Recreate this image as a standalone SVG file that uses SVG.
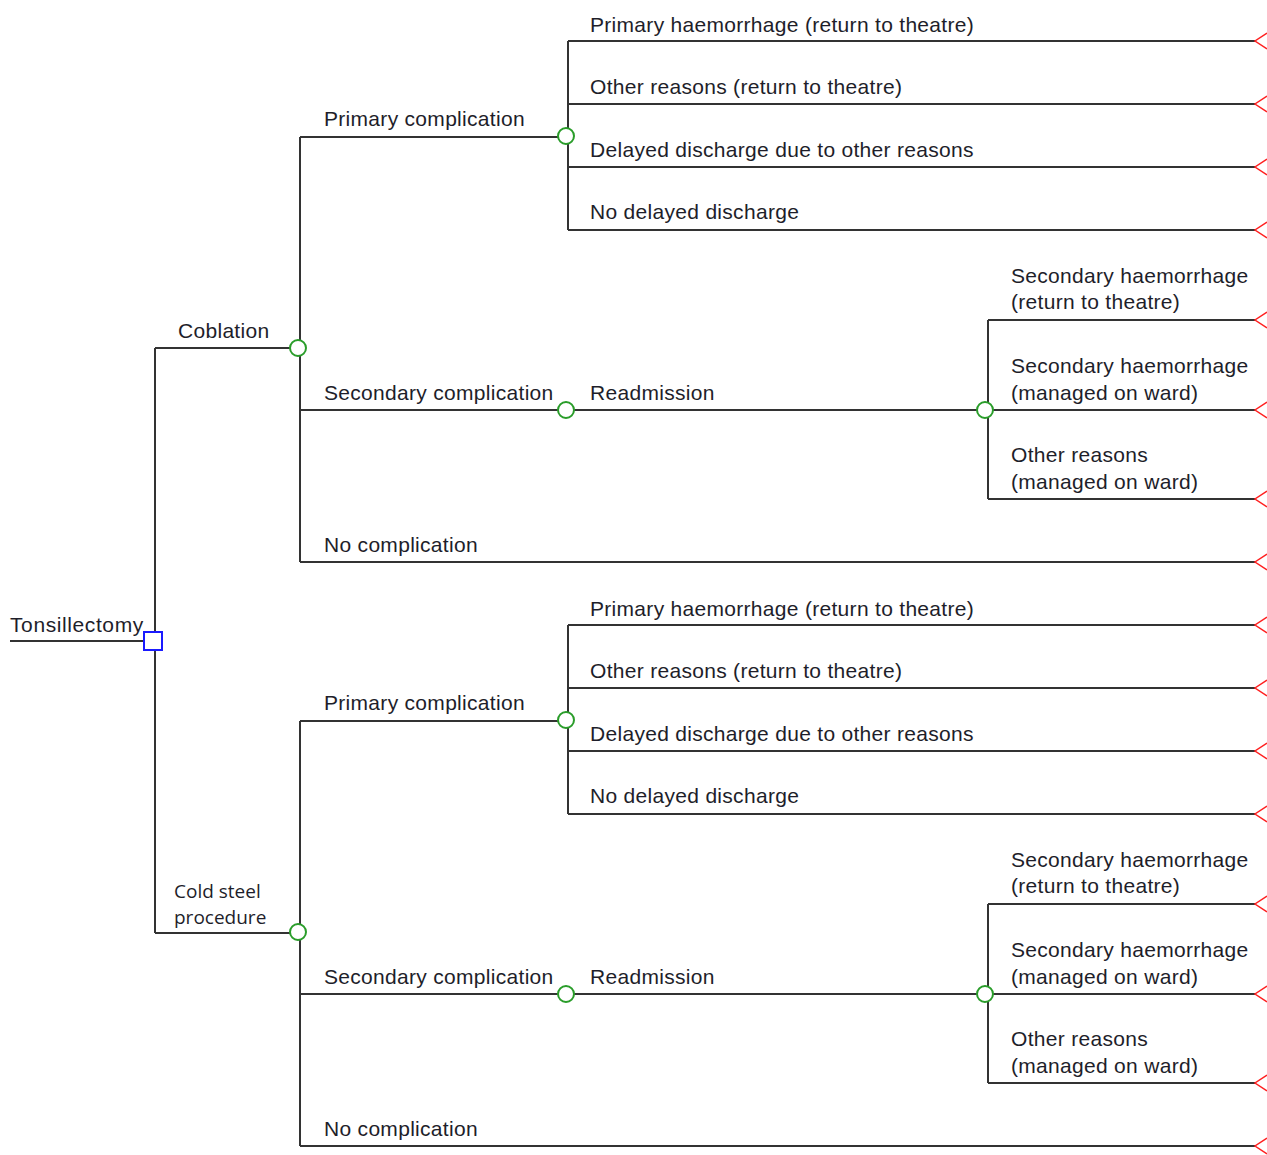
<svg xmlns="http://www.w3.org/2000/svg" width="1267" height="1155" viewBox="0 0 1267 1155">
<style>
.l{stroke:#333;stroke-width:2;fill:none}
.c{fill:#fff;stroke:#2a9d2a;stroke-width:2}
.d{fill:#fff;stroke:#1a1aff;stroke-width:2}
.t{fill:none;stroke:#ff2020;stroke-width:1.5}
text{font-family:"Liberation Sans",Arial,sans-serif;font-size:21px;letter-spacing:0.3px;fill:#1e1e2a}
.m{font-family:"Open Sans","Liberation Sans",sans-serif;font-size:19px;letter-spacing:0}
</style>
<defs>
<path id="tri" class="t" d="M1267,-8 L1255,0 L1267,8"/>
<circle id="cn" class="c" r="8"/>
</defs>
<g id="connectors">
<path class="l" d="M10,641 H145 M155,348 V933 M155,348 H290 M155,933 H290"/>
<g id="upper">
<path class="l" d="M300,137 V562 M300,137 H558 M300,410 H558 M574,410 H977 M300,562 H1255"/>
<path class="l" d="M568,41 V230 M568,41 H1255 M568,104 H1255 M568,167 H1255 M568,230 H1255"/>
<path class="l" d="M988,320 V499 M988,320 H1255 M993,410 H1255 M988,499 H1255"/>
</g>
<g id="lower" transform="translate(0,584)">
<path class="l" d="M300,137 V562 M300,137 H558 M300,410 H558 M574,410 H977 M300,562 H1255"/>
<path class="l" d="M568,41 V230 M568,41 H1255 M568,104 H1255 M568,167 H1255 M568,230 H1255"/>
<path class="l" d="M988,320 V499 M988,320 H1255 M993,410 H1255 M988,499 H1255"/>
</g>
</g>
<g id="root"><rect class="d" x="144" y="632" width="18" height="18"/><text x="10" y="632" style="letter-spacing:0.6px">Tonsillectomy</text></g>
<g id="coblation"><use href="#cn" x="298" y="348"/><text x="178" y="338">Coblation</text></g>
<g id="cold-steel"><use href="#cn" x="298" y="932"/><text class="m" x="174" y="898">Cold steel</text><text class="m" x="174" y="924">procedure</text></g>
<g id="u-primary"><use href="#cn" x="566" y="136"/><text x="324" y="126">Primary complication</text></g>
<g id="u-secondary"><use href="#cn" x="566" y="410"/><text x="324" y="400">Secondary complication</text></g>
<g id="u-readmission"><use href="#cn" x="985" y="410"/><text x="590" y="400">Readmission</text></g>
<g id="u-t1"><use href="#tri" y="41"/><text x="590" y="32">Primary haemorrhage (return to theatre)</text></g>
<g id="u-t2"><use href="#tri" y="104"/><text x="590" y="94">Other reasons (return to theatre)</text></g>
<g id="u-t3"><use href="#tri" y="167"/><text x="590" y="157">Delayed discharge due to other reasons</text></g>
<g id="u-t4"><use href="#tri" y="230"/><text x="590" y="219">No delayed discharge</text></g>
<g id="u-t5"><use href="#tri" y="320"/><text x="1011" y="283">Secondary haemorrhage</text><text x="1011" y="309">(return to theatre)</text></g>
<g id="u-t6"><use href="#tri" y="410"/><text x="1011" y="373">Secondary haemorrhage</text><text x="1011" y="400">(managed on ward)</text></g>
<g id="u-t7"><use href="#tri" y="499"/><text x="1011" y="462">Other reasons</text><text x="1011" y="489">(managed on ward)</text></g>
<g id="u-t8"><use href="#tri" y="562"/><text x="324" y="552">No complication</text></g>
<g id="l-primary"><use href="#cn" x="566" y="720"/><text x="324" y="710">Primary complication</text></g>
<g id="l-secondary"><use href="#cn" x="566" y="994"/><text x="324" y="984">Secondary complication</text></g>
<g id="l-readmission"><use href="#cn" x="985" y="994"/><text x="590" y="984">Readmission</text></g>
<g id="l-t1"><use href="#tri" y="625"/><text x="590" y="616">Primary haemorrhage (return to theatre)</text></g>
<g id="l-t2"><use href="#tri" y="688"/><text x="590" y="678">Other reasons (return to theatre)</text></g>
<g id="l-t3"><use href="#tri" y="751"/><text x="590" y="741">Delayed discharge due to other reasons</text></g>
<g id="l-t4"><use href="#tri" y="814"/><text x="590" y="803">No delayed discharge</text></g>
<g id="l-t5"><use href="#tri" y="904"/><text x="1011" y="867">Secondary haemorrhage</text><text x="1011" y="893">(return to theatre)</text></g>
<g id="l-t6"><use href="#tri" y="994"/><text x="1011" y="957">Secondary haemorrhage</text><text x="1011" y="984">(managed on ward)</text></g>
<g id="l-t7"><use href="#tri" y="1083"/><text x="1011" y="1046">Other reasons</text><text x="1011" y="1073">(managed on ward)</text></g>
<g id="l-t8"><use href="#tri" y="1146"/><text x="324" y="1136">No complication</text></g>
</svg>
